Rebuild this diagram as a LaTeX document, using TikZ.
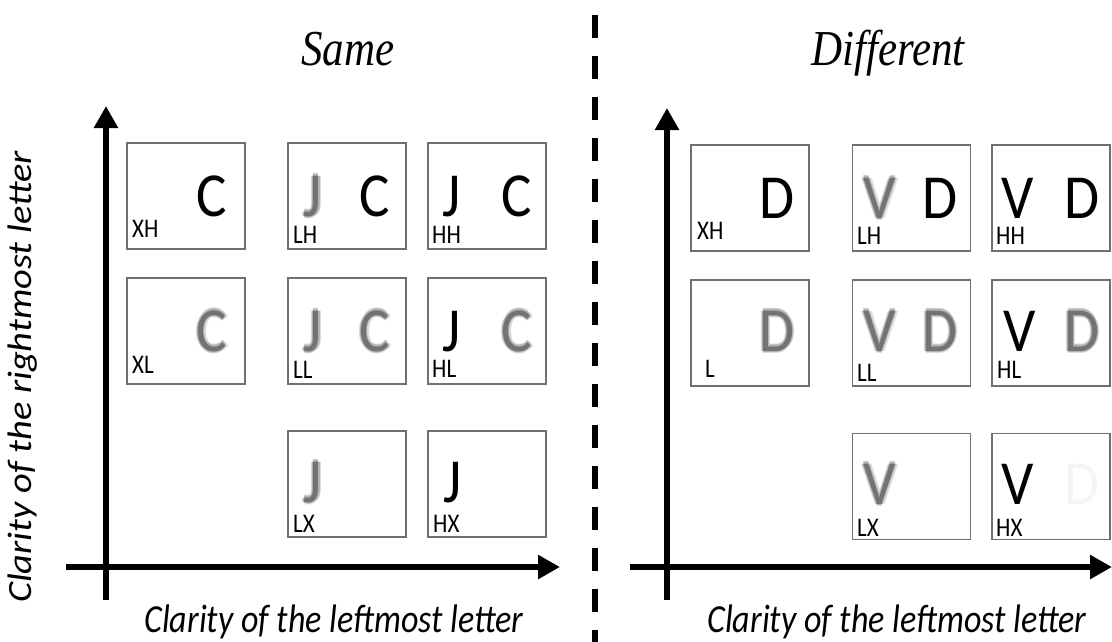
\documentclass[tikz,border=0pt]{standalone}
\usepackage{graphicx}
\usepackage{fontspec}
\setmainfont{Carlito}
\newfontfamily\titlefont{Liberation Serif}
\usetikzlibrary{arrows.meta}
\definecolor{boxgray}{HTML}{707070}
\newcommand\vstr[1]{\scalebox{1}[1.17]{#1}}
\newcommand\lstr[1]{\scalebox{1}[1.1]{#1}}
\newcommand\fuzzy[2][55]{\leavevmode
\rlap{\kern-2.2pt\textcolor{black!14}{#2}}%
\rlap{\kern2.2pt\textcolor{black!14}{#2}}%
\rlap{\raisebox{2.2pt}{\textcolor{black!14}{#2}}}%
\rlap{\raisebox{-2.2pt}{\textcolor{black!14}{#2}}}%
\rlap{\kern-1.1pt\textcolor{black!30}{#2}}%
\rlap{\kern1.1pt\textcolor{black!30}{#2}}%
\rlap{\raisebox{1.1pt}{\textcolor{black!30}{#2}}}%
\rlap{\raisebox{-1.1pt}{\textcolor{black!30}{#2}}}%
\textcolor{black!#1}{#2}}
\begin{document}
\begin{tikzpicture}[x=1pt,y=-1pt,
  box/.style={draw=boxgray,line width=1.4,minimum width=118,minimum height=106,inner sep=0},
  big/.style={font=\fontsize{57}{57}\selectfont,inner sep=0,anchor=base},
  lab/.style={font=\fontsize{23}{23}\selectfont,inner sep=0,anchor=base west},
  axis/.style={line width=6.5,-{Triangle[width=23pt,length=22pt]}},
  ttl/.style={font=\titlefont\itshape\fontsize{43}{43}\selectfont,inner sep=0,anchor=base},
  axlab/.style={font=\itshape\fontsize{34}{34}\selectfont,inner sep=0}]
\useasboundingbox (0,0) rectangle (1112,642);
% titles
\node[ttl] (same) at (348,66) {\vstr{Same}};
\node[ttl] (diff) at (888,66) {\vstr{Different}};
% divider
\coordinate (dtop) at (595,15);
\coordinate (dbot) at (595,660);
\draw[line width=6,dash pattern=on 23 off 18] (dtop) -- (dbot);
% axes left
\coordinate (lv0) at (106,600); \coordinate (lv1) at (106,106);
\coordinate (lh0) at (66,567);  \coordinate (lh1) at (560,567);
\draw[axis] (lv0) -- (lv1);
\draw[axis] (lh0) -- (lh1);
% axes right
\coordinate (rv0) at (667,600); \coordinate (rv1) at (667,108);
\coordinate (rh0) at (630,567); \coordinate (rh1) at (1112,567);
\draw[axis] (rv0) -- (rv1);
\draw[axis] (rh0) -- (rh1);
% axis labels
\node[axlab] (xl1) at (334,622) {\vstr{Clarity of the leftmost letter}};
\node[axlab] (xl2) at (897,622) {\vstr{Clarity of the leftmost letter}};
\node[axlab,rotate=90] (yl) at (23,377) {\scalebox{1.13}[1]{Clarity of the rightmost letter}};
% ---- left panel boxes
\node[box] (sXH) at (186,196) {};
\node[box] (sLH) at (347,196) {};
\node[box] (sHH) at (487,196) {};
\node[box] (sXL) at (186,331) {};
\node[box] (sLL) at (347,331) {};
\node[box] (sHL) at (487,331) {};
\node[box] (sLX) at (347,484) {};
\node[box] (sHX) at (487,484) {};
% letters left
\node[big] (c1) at (212,216) {\lstr{C}};
\node[big] (j2) at (313,216) {\lstr{\fuzzy{J}}};
\node[big] (c2) at (375,216) {\lstr{C}};
\node[big] (j3) at (452,216) {\lstr{J}};
\node[big] (c3) at (517,216) {\lstr{C}};
\node[big] (c4) at (212,351) {\lstr{\fuzzy{C}}};
\node[big] (j5) at (313,351) {\lstr{\fuzzy{J}}};
\node[big] (c5) at (375,351) {\lstr{\fuzzy{C}}};
\node[big] (j6) at (452,351) {\lstr{J}};
\node[big] (c6) at (517,351) {\lstr{\fuzzy{C}}};
\node[big] (j7) at (313,502) {\lstr{\fuzzy{J}}};
\node[big] (j8) at (453,502) {\lstr{J}};
% labels left
\node[lab] (lXH) at (132,237) {\vstr{XH}};
\node[lab] (lLH) at (293,243) {\vstr{LH}};
\node[lab] (lHH) at (432,243) {\vstr{HH}};
\node[lab] (lXL) at (132,373) {\vstr{XL}};
\node[lab] (lLL) at (293,378) {\vstr{LL}};
\node[lab] (lHL) at (432,377) {\vstr{HL}};
\node[lab] (lLX) at (293,532) {\vstr{LX}};
\node[lab] (lHX) at (433,532) {\vstr{HX}};
% ---- right panel boxes
\node[box] (dXH) at (750,198) {};
\node[box] (dLH) at (911.5,198) {};
\node[box] (dHH) at (1051,198) {};
\node[box] (dXL) at (750,333) {};
\node[box] (dLL) at (911.5,333) {};
\node[box] (dHL) at (1051,333) {};
\node[box] (dLX) at (911.5,486.5) {};
\node[box] (dHX) at (1051,486.5) {};
% letters right
\node[big] (d1) at (777,218) {\lstr{D}};
\node[big] (v2) at (880,218) {\lstr{\fuzzy{V}}};
\node[big] (d2) at (940,218) {\lstr{D}};
\node[big] (v3) at (1018,218) {\lstr{V}};
\node[big] (d3) at (1082,218) {\lstr{D}};
\node[big] (d4) at (777,351) {\lstr{\fuzzy{D}}};
\node[big] (v5) at (880,351) {\lstr{\fuzzy{V}}};
\node[big] (d5) at (940,351) {\lstr{\fuzzy{D}}};
\node[big] (v6) at (1020,351) {\lstr{V}};
\node[big] (d6) at (1082,351) {\lstr{\fuzzy{D}}};
\node[big] (v7) at (880,504) {\lstr{\fuzzy{V}}};
\node[big] (v8) at (1018,504) {\lstr{V}};
\node[big,text=black!4] (d8) at (1082,504) {\lstr{D}};
% labels right
\node[lab] (rXH) at (697,239) {\vstr{XH}};
\node[lab] (rLH) at (857,244) {\vstr{LH}};
\node[lab] (rHH) at (996,244) {\vstr{HH}};
\node[lab] (rL)  at (705,377) {\vstr{L}};
\node[lab] (rLL) at (857,381) {\vstr{LL}};
\node[lab] (rHL) at (997,378) {\vstr{HL}};
\node[lab] (rLX) at (857,536) {\vstr{LX}};
\node[lab] (rHX) at (996,536) {\vstr{HX}};
\end{tikzpicture}
\end{document}
